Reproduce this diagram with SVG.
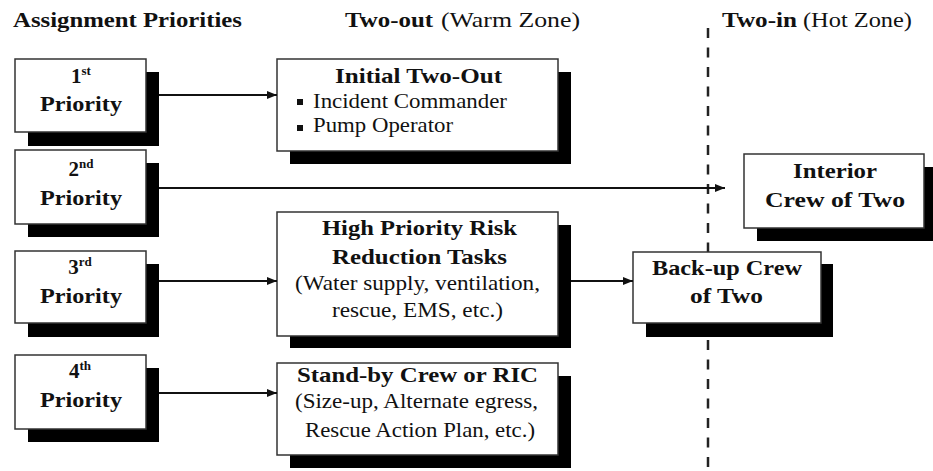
<svg xmlns="http://www.w3.org/2000/svg" width="933" height="471" viewBox="0 0 933 471">
<defs>
<style>
text{font-family:"Liberation Serif","Times New Roman",serif;font-size:21px;fill:#111}
.b{font-weight:bold}
.sup{font-size:13px;font-weight:bold}
.box{fill:#fff;stroke:#333;stroke-width:1.5}
.sh{fill:#000}
.conn{stroke:#111;stroke-width:2;fill:none;marker-end:url(#ah)}
.zone{stroke:#222;stroke-width:2.5;stroke-dasharray:10 9.5;fill:none}
</style>
<marker id="ah" viewBox="0 0 10 8" refX="10" refY="4" markerWidth="10" markerHeight="8" markerUnits="userSpaceOnUse" orient="auto">
<path d="M0,0 L10,4 L0,8 z" fill="#111"/>
</marker>
</defs>
<rect width="933" height="471" fill="#fff"/>

<g id="headings">
<text class="b" x="13" y="27" textLength="229" lengthAdjust="spacingAndGlyphs">Assignment Priorities</text>
<text class="b" x="345" y="27" textLength="88" lengthAdjust="spacingAndGlyphs">Two-out</text>
<text x="441" y="27" textLength="139" lengthAdjust="spacingAndGlyphs">(Warm Zone)</text>
<text class="b" x="722" y="27" textLength="75" lengthAdjust="spacingAndGlyphs">Two-in</text>
<text x="803" y="27" textLength="109" lengthAdjust="spacingAndGlyphs">(Hot Zone)</text>
</g>

<path class="zone" d="M708,28 V471"/>

<g id="p1">
<rect class="sh" x="28" y="72" width="131" height="74"/>
<rect class="box" x="15" y="59" width="131" height="73"/>
<text class="b" x="81" y="83" text-anchor="middle">1<tspan class="sup" dy="-8">st</tspan></text>
<text class="b" x="40" y="111" textLength="82" lengthAdjust="spacingAndGlyphs">Priority</text>
</g>
<g id="p2">
<rect class="sh" x="28" y="163" width="131" height="74"/>
<rect class="box" x="15" y="150" width="131" height="74"/>
<text class="b" x="81" y="176" text-anchor="middle">2<tspan class="sup" dy="-8">nd</tspan></text>
<text class="b" x="40" y="205" textLength="82" lengthAdjust="spacingAndGlyphs">Priority</text>
</g>
<g id="p3">
<rect class="sh" x="28" y="264" width="131" height="73"/>
<rect class="box" x="15" y="251" width="131" height="72"/>
<text class="b" x="80" y="274" text-anchor="middle">3<tspan class="sup" dy="-8">rd</tspan></text>
<text class="b" x="40" y="303" textLength="82" lengthAdjust="spacingAndGlyphs">Priority</text>
</g>
<g id="p4">
<rect class="sh" x="28" y="368" width="131" height="74"/>
<rect class="box" x="15" y="355" width="131" height="74"/>
<text class="b" x="80" y="378" text-anchor="middle">4<tspan class="sup" dy="-8">th</tspan></text>
<text class="b" x="40" y="407" textLength="82" lengthAdjust="spacingAndGlyphs">Priority</text>
</g>

<g id="initial">
<rect class="sh" x="290" y="72" width="281" height="92"/>
<rect class="box" x="277" y="59" width="281" height="92"/>
<text class="b" x="335" y="83" textLength="167" lengthAdjust="spacingAndGlyphs">Initial Two-Out</text>
<rect x="297" y="99" width="6" height="6" fill="#111"/>
<text x="313" y="108" textLength="194" lengthAdjust="spacingAndGlyphs">Incident Commander</text>
<rect x="297" y="125" width="6" height="6" fill="#111"/>
<text x="313" y="132" textLength="140" lengthAdjust="spacingAndGlyphs">Pump Operator</text>
</g>

<g id="highpriority">
<rect class="sh" x="290" y="225" width="281" height="123"/>
<rect class="box" x="277" y="212" width="281" height="124"/>
<text class="b" x="322" y="235" textLength="195" lengthAdjust="spacingAndGlyphs">High Priority Risk</text>
<text class="b" x="332" y="264" textLength="175" lengthAdjust="spacingAndGlyphs">Reduction Tasks</text>
<text x="295" y="290" textLength="245" lengthAdjust="spacingAndGlyphs">(Water supply, ventilation,</text>
<text x="332" y="317" textLength="171" lengthAdjust="spacingAndGlyphs">rescue, EMS, etc.)</text>
</g>

<g id="standby">
<rect class="sh" x="290" y="376" width="281" height="92"/>
<rect class="box" x="277" y="363" width="281" height="92"/>
<text class="b" x="297" y="382" textLength="241" lengthAdjust="spacingAndGlyphs">Stand-by Crew or RIC</text>
<text x="295" y="408" textLength="243" lengthAdjust="spacingAndGlyphs">(Size-up, Alternate egress,</text>
<text x="305" y="437" textLength="230" lengthAdjust="spacingAndGlyphs">Rescue Action Plan, etc.)</text>
</g>

<g id="interior">
<rect class="sh" x="757" y="167" width="180" height="74"/>
<rect class="box" x="744" y="154" width="180" height="74"/>
<text class="b" x="793" y="178" textLength="84" lengthAdjust="spacingAndGlyphs">Interior</text>
<text class="b" x="765" y="207" textLength="140" lengthAdjust="spacingAndGlyphs">Crew of Two</text>
</g>

<g id="backup">
<rect class="sh" x="646" y="264" width="187" height="73"/>
<rect class="box" x="633" y="252" width="188" height="71"/>
<text class="b" x="652" y="275" textLength="150" lengthAdjust="spacingAndGlyphs">Back-up Crew</text>
<text class="b" x="690" y="303" textLength="73" lengthAdjust="spacingAndGlyphs">of Two</text>
</g>

<g id="connectors">
<path class="conn" d="M159,95 H277"/>
<path class="conn" d="M159,188 H725"/>
<path class="conn" d="M159,281 H277"/>
<path class="conn" d="M159,393 H277"/>
<path class="conn" d="M571,281 H633"/>
</g>
</svg>
